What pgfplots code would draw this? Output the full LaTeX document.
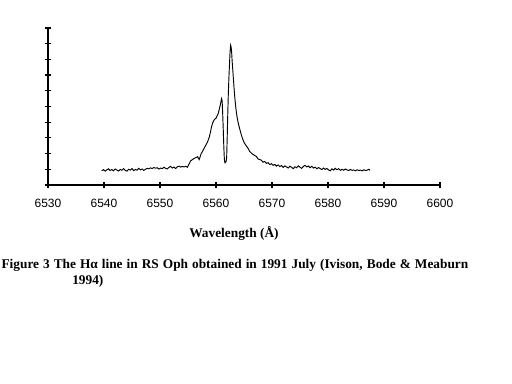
\documentclass[border=0pt]{standalone}
\usepackage{fontspec}
\setmainfont{Liberation Serif}
\newfontfamily\arial{Liberation Sans}
\usepackage{pgfplots}
\pgfplotsset{compat=1.18}
\begin{document}
\begin{tikzpicture}
\useasboundingbox (0,0) rectangle (384pt,288pt);
\begin{axis}[
  at={(36pt,149.25pt)}, anchor=south west,
  scale only axis, width=294pt, height=117.75pt,
  xmin=6530, xmax=6600, ymin=0, ymax=10,
  axis x line=bottom, axis y line=left,
  axis line style={-, line width=0.9pt},
  xtick={6530,6540,...,6600}, ytick={0,1,...,10},
  yticklabels={},
  tick align=center, major tick length=4.5pt,
  tick style={line width=0.9pt, black},
  /pgf/number format/assume math mode=true,
  /pgf/number format/1000 sep={},
  xticklabel style={font=\arial\fontsize{9pt}{10pt}\selectfont, yshift=-5pt},
  clip=false,
]
\addplot[black, line width=0.7pt, mark=none] table {
6539.6 0.90
6539.9 0.98
6540.2 0.88
6540.5 0.96
6540.8 1.03
6541.1 0.92
6541.4 0.99
6541.7 0.90
6542.0 1.02
6542.3 0.95
6542.6 0.89
6542.9 0.99
6543.2 0.94
6543.5 1.04
6543.8 0.93
6544.1 0.88
6544.4 1.00
6544.7 0.95
6545.0 1.05
6545.3 0.91
6545.6 0.99
6545.9 0.94
6546.2 1.06
6546.5 0.96
6546.8 1.02
6547.1 0.93
6547.4 1.00
6547.7 1.06
6548.0 1.03
6548.3 1.09
6548.6 1.05
6548.9 1.11
6549.2 1.07
6549.5 1.10
6549.8 1.01
6550.1 1.08
6550.4 1.04
6550.7 1.13
6551.0 1.06
6551.3 1.02
6551.6 1.12
6551.9 1.19
6552.2 1.08
6552.5 1.14
6552.8 1.05
6553.1 1.16
6553.4 1.20
6553.7 1.14
6554.0 1.18
6554.3 1.15
6554.6 1.19
6554.9 1.13
6555.2 1.35
6555.5 1.55
6555.8 1.62
6556.1 1.70
6556.4 1.74
6556.7 1.80
6557.0 1.62
6557.3 1.95
6557.6 2.15
6557.9 2.35
6558.2 2.55
6558.5 2.75
6558.8 3.05
6559.0 3.35
6559.2 3.70
6559.4 3.95
6559.6 4.10
6559.8 4.20
6560.0 4.25
6560.2 4.40
6560.4 4.55
6560.6 4.85
6560.8 5.15
6561.0 5.50
6561.1 5.35
6561.2 4.50
6561.3 3.50
6561.4 2.40
6561.5 1.60
6561.6 1.42
6561.7 1.45
6561.8 1.50
6561.9 1.70
6562.0 3.00
6562.1 4.50
6562.2 5.80
6562.3 6.80
6562.4 7.60
6562.5 8.40
6562.6 8.90
6562.7 8.80
6562.8 8.40
6562.9 7.80
6563.0 7.30
6563.1 6.80
6563.2 6.30
6563.35 5.60
6563.5 5.05
6563.65 4.60
6563.8 4.25
6564.0 3.90
6564.2 3.62
6564.4 3.35
6564.6 3.10
6564.8 2.90
6565.0 2.72
6565.2 2.60
6565.4 2.50
6565.7 2.35
6566.0 2.15
6566.3 2.03
6566.6 1.95
6566.9 1.88
6567.2 1.82
6567.5 1.66
6567.8 1.62
6568.1 1.58
6568.4 1.45
6568.7 1.50
6569.0 1.38
6569.3 1.42
6569.6 1.30
6569.9 1.36
6570.2 1.25
6570.5 1.31
6570.8 1.20
6571.1 1.28
6571.4 1.17
6571.7 1.24
6572.0 1.12
6572.3 1.22
6572.6 1.15
6572.9 1.08
6573.2 1.20
6573.5 1.12
6573.8 1.04
6574.1 1.16
6574.4 1.10
6574.7 1.22
6575.0 1.13
6575.3 1.06
6575.6 1.18
6575.9 1.26
6576.2 1.15
6576.5 1.21
6576.8 1.10
6577.1 1.19
6577.4 1.08
6577.7 1.14
6578.0 1.03
6578.3 1.11
6578.6 1.05
6578.9 0.98
6579.2 1.08
6579.5 0.99
6579.8 1.06
6580.1 0.96
6580.4 0.90
6580.7 1.03
6581.0 0.95
6581.3 1.06
6581.6 0.97
6581.9 1.04
6582.2 0.93
6582.5 1.00
6582.8 0.94
6583.1 1.02
6583.4 0.96
6583.7 0.92
6584.0 0.99
6584.3 0.93
6584.6 0.96
6584.9 0.90
6585.2 0.97
6585.5 0.92
6585.8 0.95
6586.1 0.90
6586.4 0.97
6586.7 0.92
6587.0 0.95
6587.3 1.00
6587.5 0.93
};
\end{axis}
\node[font=\fontsize{10pt}{12pt}\selectfont\bfseries, inner sep=0pt] at (175.5pt,113.25pt) {Wavelength (Å)};
\node[font=\fontsize{10pt}{12pt}\selectfont\bfseries, inner sep=0pt, anchor=west] at (1pt,89.25pt) {\makebox[350pt][s]{Figure 3 The Hα line in RS Oph obtained in 1991 July (Ivison, Bode \& Meaburn}};
\node[font=\fontsize{10pt}{12pt}\selectfont\bfseries, inner sep=0pt, anchor=west] at (54pt,77.25pt) {1994)};
\end{tikzpicture}
\end{document}
